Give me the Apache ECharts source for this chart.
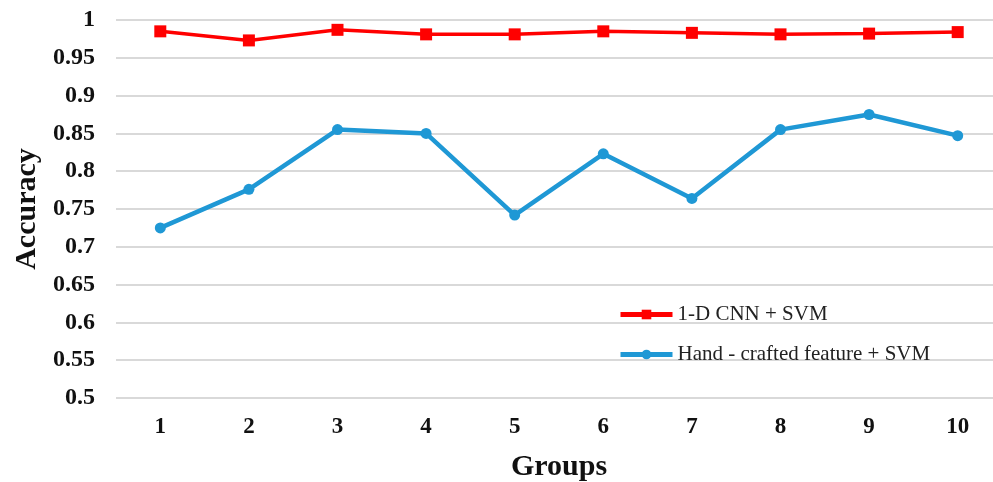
<!DOCTYPE html>
<html><head><meta charset="utf-8">
<script src="https://cdn.jsdelivr.net/npm/echarts@6/dist/echarts.min.js"></script>
<style>html,body{margin:0;padding:0;background:#fff}#c{width:993px;height:482px}</style>
</head><body><div id="c"></div>
<script>
const groups = ['1','2','3','4','5','6','7','8','9','10'];
const cnnSvm = [0.985, 0.973, 0.987, 0.981, 0.981, 0.985, 0.983, 0.981, 0.982, 0.984];
const handSvm = [0.725, 0.776, 0.855, 0.850, 0.742, 0.823, 0.764, 0.855, 0.875, 0.847];
const seriesNames = ['1-D CNN + SVM', 'Hand - crafted feature + SVM'];

const serif = '"Liberation Serif", "Times New Roman", serif';
const chart = echarts.init(document.getElementById('c'));
chart.setOption({
  animation: false,
  grid: { left: 116, right: -9, top: 20, bottom: 84, outerBoundsMode: 'none', containLabel: false },
  legend: {
    left: 618, top: 304, orient: 'vertical', itemGap: 19, padding: 0,
    itemWidth: 52, itemHeight: 12,
    lineStyle: { width: 5 },
    textStyle: { fontFamily: serif, fontSize: 21, color: '#222' },
    data: seriesNames
  },
  xAxis: {
    type: 'category', data: groups, boundaryGap: true,
    name: 'Groups', nameLocation: 'middle', nameGap: 54,
    nameTextStyle: { fontFamily: serif, fontSize: 30, fontWeight: 'bold', color: '#111' },
    axisLine: { show: false }, axisTick: { show: false },
    axisLabel: { fontFamily: serif, fontSize: 23, fontWeight: 'bold', color: '#111', margin: 18 }
  },
  yAxis: {
    type: 'value', min: 0.5, max: 1, interval: 0.05,
    name: 'Accuracy', nameLocation: 'middle', nameGap: 74, nameRotate: 90,
    nameTextStyle: { fontFamily: serif, fontSize: 30, fontWeight: 'bold', color: '#111' },
    axisLine: { show: false }, axisTick: { show: false },
    axisLabel: { fontFamily: serif, fontSize: 24, fontWeight: 'bold', color: '#111', margin: 21,
      formatter: v => String(parseFloat(v.toFixed(2))) },
    splitLine: { lineStyle: { color: '#d9d9d9', width: 2 } }
  },
  series: [
    { name: seriesNames[0], type: 'line', data: cnnSvm, symbol: 'rect', symbolSize: 12,
      lineStyle: { color: '#ff0000', width: 3.5 }, itemStyle: { color: '#ff0000' } },
    { name: seriesNames[1], type: 'line', data: handSvm, symbol: 'circle', symbolSize: 11,
      lineStyle: { color: '#1f98d5', width: 4.5 }, itemStyle: { color: '#1f98d5' } }
  ]
});
</script></body></html>
